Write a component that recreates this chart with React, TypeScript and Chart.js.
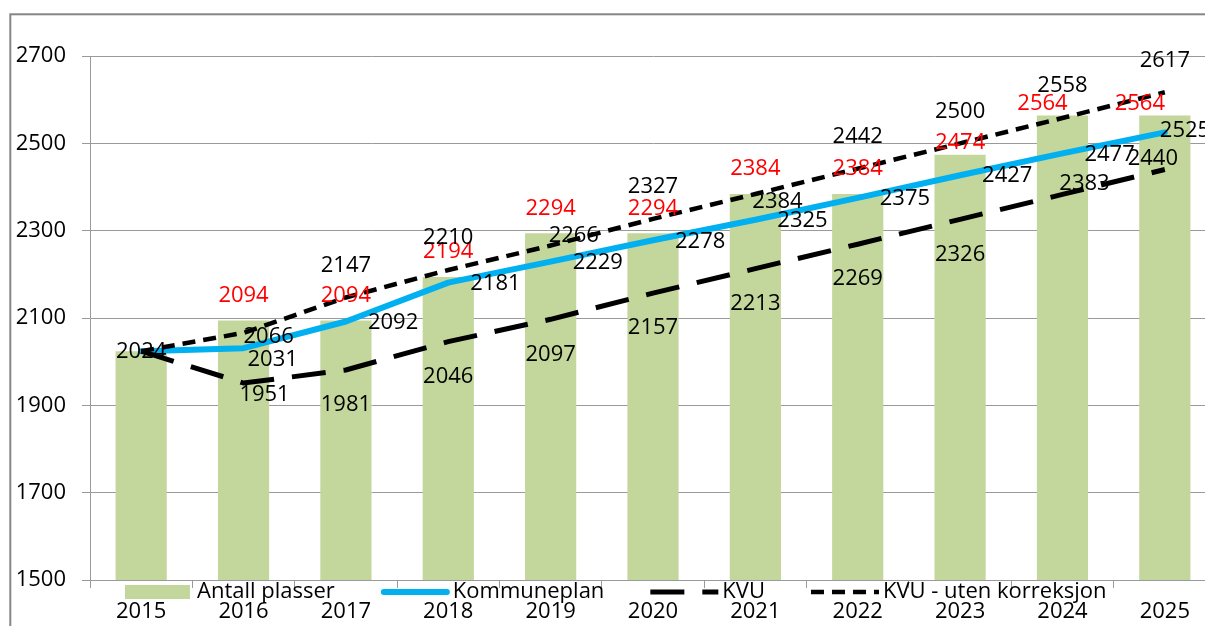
import React, { useEffect, useRef } from "react";
import { Chart, registerables } from "chart.js";

Chart.register(...registerables);

const years = ["2015", "2016", "2017", "2018", "2019", "2020", "2021", "2022", "2023", "2024", "2025"];
const antallPlasser = [2024, 2094, 2094, 2194, 2294, 2294, 2384, 2384, 2474, 2564, 2564];
const kommuneplan = [2024, 2031, 2092, 2181, 2229, 2278, 2325, 2375, 2427, 2477, 2525];
const kvu = [2024, 1951, 1981, 2046, 2097, 2157, 2213, 2269, 2326, 2383, 2440];
const kvuUten = [2024, 2066, 2147, 2210, 2266, 2327, 2384, 2442, 2500, 2558, 2617];
const yMin = 1500;
const yMax = 2700;
const yStep = 200;

const FONT = "'Open Sans', 'Liberation Sans', sans-serif";
const FS = 22;
const GREEN = "#C3D69B";
const BLUE = "#00B0F0";
const GRID = "#9a9a9a";

type LabelStyle = {
  color: string;
  align: CanvasTextAlign;
  dx: number;
  dy: number;
  skip: number[];
  nudge: Record<number, { align?: CanvasTextAlign; dx?: number; dy?: number }>;
};

// label placement styles, indexed by dataset index
const labelStyles: LabelStyle[] = [
  { color: "#FF0000", align: "center", dx: 0, dy: -25, skip: [0],
    nudge: { 8: { dy: -12 }, 9: { dx: -20, dy: -12 }, 10: { dx: -25, dy: -12 } } },
  { color: "#000000", align: "left", dx: 22, dy: 1, skip: [],
    nudge: { 0: { align: "center", dx: 0, dy: 1 }, 1: { dx: 4, dy: 12 }, 10: { dx: -5, dy: -2 } } },
  { color: "#000000", align: "center", dx: 0, dy: 35, skip: [0],
    nudge: { 1: { dx: 21, dy: 12 }, 9: { dx: 22, dy: -11 }, 10: { dx: -12, dy: -11 } } },
  { color: "#000000", align: "center", dx: 0, dy: -32, skip: [0],
    nudge: { 1: { align: "left", dx: 0, dy: 4 }, 4: { align: "left", dx: -2, dy: -10 }, 6: { align: "left", dx: -3, dy: 8 } } },
];

const labelPlugin = {
  id: "valueLabels",
  afterDatasetsDraw(chart: any) {
    const ctx = chart.ctx;
    ctx.save();
    ctx.font = `${FS}px ${FONT}`;
    ctx.textBaseline = "middle";
    chart.data.datasets.forEach((ds: any, di: number) => {
      const st = labelStyles[di];
      const meta = chart.getDatasetMeta(di);
      meta.data.forEach((el: any, i: number) => {
        if (st.skip.includes(i)) return;
        const n = st.nudge[i] || {};
        const align = n.align ?? st.align;
        const dx = n.dx ?? st.dx;
        const dy = n.dy ?? st.dy;
        ctx.fillStyle = st.color;
        ctx.textAlign = align;
        ctx.fillText(String(ds.data[i]), el.x + dx, el.y + dy);
      });
    });
    ctx.restore();
  },
};

const frameAndLegendPlugin = {
  id: "frameAndLegend",
  beforeDraw(chart: any) {
    const ctx = chart.ctx;
    ctx.save();
    ctx.fillStyle = "#ffffff";
    ctx.fillRect(0, 0, chart.width, chart.height);
    ctx.strokeStyle = "#868686";
    ctx.lineWidth = 2;
    ctx.strokeRect(10.3, 14.3, chart.width + 50, chart.height + 50);
    ctx.restore();
  },
  afterDraw(chart: any) {
    const ctx = chart.ctx;
    const area = chart.chartArea;
    ctx.save();
    ctx.font = `${FS}px ${FONT}`;
    ctx.textBaseline = "middle";
    ctx.textAlign = "left";
    let x = area.left + 35;
    const y = area.bottom + 12;
    chart.data.datasets.forEach((ds: any) => {
      if (ds.type === "bar") {
        ctx.fillStyle = ds.backgroundColor;
        ctx.fillRect(x, y - 7, 65, 14);
      } else {
        ctx.strokeStyle = ds.borderColor;
        ctx.lineWidth = ds.borderWidth;
        ctx.setLineDash(ds.borderDash || []);
        ctx.lineCap = ds.borderDash ? "butt" : "round";
        ctx.beginPath();
        ctx.moveTo(x + (ds.borderDash ? 0 : 3), y);
        ctx.lineTo(x + (ds.borderDash ? 68 : 66), y);
        ctx.stroke();
        ctx.setLineDash([]);
      }
      ctx.fillStyle = "#000000";
      ctx.fillText(ds.label, x + 72, y);
      x += 72 + ctx.measureText(ds.label).width + 46;
    });
    ctx.restore();
  },
};

export default function App() {
  const ref = useRef<HTMLCanvasElement | null>(null);

  useEffect(() => {
    if (!ref.current) return;
    const chart = new Chart(ref.current, {
      type: "bar",
      data: {
        labels: years,
        datasets: [
          {
            type: "bar",
            label: "Antall plasser",
            data: antallPlasser,
            backgroundColor: GREEN,
            barPercentage: 0.5,
            categoryPercentage: 1.0,
            order: 4,
          } as any,
          {
            type: "line",
            label: "Kommuneplan",
            data: kommuneplan,
            borderColor: BLUE,
            backgroundColor: BLUE,
            borderWidth: 6,
            pointRadius: 0,
            tension: 0,
            borderCapStyle: "round",
            borderJoinStyle: "round",
            order: 3,
          } as any,
          {
            type: "line",
            label: "KVU",
            data: kvu,
            borderColor: "#000000",
            backgroundColor: "#000000",
            borderWidth: 5,
            borderDash: [34, 18],
            pointRadius: 0,
            tension: 0,
            order: 2,
          } as any,
          {
            type: "line",
            label: "KVU - uten korreksjon",
            data: kvuUten,
            borderColor: "#000000",
            backgroundColor: "#000000",
            borderWidth: 4.5,
            borderDash: [13, 8],
            pointRadius: 0,
            tension: 0,
            order: 1,
          } as any,
        ],
      },
      options: {
        animation: false,
        responsive: true,
        maintainAspectRatio: false,
        layout: { padding: { left: 0, top: 56, right: 14, bottom: 0 } },
        plugins: {
          legend: { display: false },
          tooltip: { enabled: false },
          title: { display: false },
        },
        scales: {
          x: {
            offset: true,
            grid: {
              display: true,
              drawOnChartArea: false,
              drawTicks: true,
              tickLength: 8,
              color: GRID,
              offset: true,
            },
            border: { display: true, color: GRID, width: 1 },
            ticks: {
              color: "#000000",
              font: { family: FONT, size: FS },
              padding: 11,
              maxRotation: 0,
              autoSkip: false,
            },
            afterFit(scale: any) {
              scale.height = 46;
            },
          },
          y: {
            min: yMin,
            max: yMax,
            ticks: {
              stepSize: yStep,
              color: "#000000",
              font: { family: FONT, size: FS },
              padding: 16,
              callback: (v: any) => String(v),
            },
            grid: {
              color: GRID,
              lineWidth: 1,
              drawTicks: true,
              tickLength: 8,
            },
            border: { display: true, color: GRID, width: 1 },
            afterFit(scale: any) {
              scale.width = 90;
            },
          },
        },
      },
      plugins: [frameAndLegendPlugin, labelPlugin],
    });
    return () => chart.destroy();
  }, []);

  return (
    <div
      style={{
        position: "fixed",
        left: 0,
        top: 0,
        width: 1205,
        height: 626,
        overflow: "hidden",
        background: "#ffffff",
      }}
    >
      <div style={{ position: "relative", width: 1230, height: 626 }}>
        <canvas ref={ref} />
      </div>
    </div>
  );
}
